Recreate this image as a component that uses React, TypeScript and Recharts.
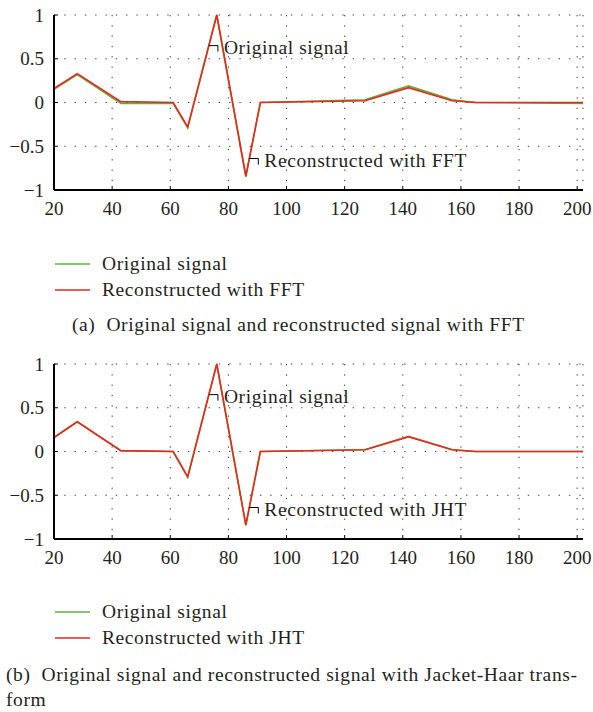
import { CartesianGrid, Line, LineChart, ReferenceDot, XAxis, YAxis } from "recharts";

// sample positions and values
const sampleX = [20, 28, 43, 61, 66, 76, 86, 91, 127, 142, 157, 165, 202];
const originalA = [0.15, 0.32, -0.01, -0.01, -0.29, 1.0, -0.85, 0.0, 0.03, 0.19, 0.03, 0.0, -0.01];
const fftValues = [0.16, 0.33, 0.01, 0.0, -0.28, 1.0, -0.84, 0.0, 0.02, 0.17, 0.02, 0.0, 0.0];
const originalB = [0.16, 0.34, 0.01, 0.0, -0.29, 1.0, -0.84, 0.0, 0.02, 0.17, 0.02, 0.0, 0.0];
const jhtValues = [0.16, 0.34, 0.01, 0.0, -0.29, 1.0, -0.84, 0.0, 0.02, 0.17, 0.02, 0.0, 0.0];

const xTicks = [20, 40, 60, 80, 100, 120, 140, 160, 180, 200];
const yTicks = [-1, -0.5, 0, 0.5, 1];
const seriesNames = ["Original signal", "Reconstructed with"];

const GREEN = "#5cb23e";
const RED = "#e8271e";
const INK = "#231f20";
const FONT = "'Liberation Serif', serif";
const TEXT_SIZE = 19.5;
const SPACING = 0.6;

const fmtY = (v: number) => (v < 0 ? "\u2212" + Math.abs(v) : String(v));

function Callout(props: any) {
  const { cx, cy, text } = props;
  if (cx == null || cy == null) return null;
  return (
    <g>
      <path d={`M${cx},${cy} H${cx + 9} V${cy + 6}`} stroke="#000" strokeWidth={1} fill="none" />
      <text
        x={cx + 15}
        y={cy + 8.5}
        fontFamily={FONT}
        fontSize={TEXT_SIZE}
        letterSpacing={SPACING}
        fill={INK}
      >
        {text}
      </text>
    </g>
  );
}

function Panel({ original, recon, method }: { original: number[]; recon: number[]; method: string }) {
  const data = sampleX.map((x, i) => ({ x, original: original[i], recon: recon[i] }));
  const tickStyle = { fontFamily: FONT, fontSize: 19, fill: INK };
  const edge = { stroke: "#000", strokeWidth: 2 };
  return (
    <LineChart width={593} height={230} data={data} margin={{ top: 15, right: 10, bottom: 0, left: 0 }}>
      <CartesianGrid stroke="#333" strokeDasharray="1.3 9" />
      <XAxis
        dataKey="x"
        type="number"
        domain={[20, 202]}
        ticks={xTicks}
        allowDataOverflow
        height={40}
        tickSize={-4}
        tickMargin={16}
        tick={tickStyle}
        axisLine={edge}
        tickLine={{ stroke: "#000" }}
      />
      <XAxis
        xAxisId="top"
        orientation="top"
        dataKey="x"
        type="number"
        domain={[20, 202]}
        ticks={xTicks}
        allowDataOverflow
        height={0}
        tickSize={-4}
        tick={false}
        axisLine={edge}
        tickLine={{ stroke: "#000" }}
      />
      <YAxis
        type="number"
        domain={[-1, 1]}
        ticks={yTicks}
        width={54}
        tickSize={-4}
        tickMargin={14}
        tick={tickStyle}
        tickFormatter={fmtY}
        axisLine={edge}
        tickLine={{ stroke: "#000" }}
      />
      <YAxis
        yAxisId="right"
        orientation="right"
        type="number"
        domain={[-1, 1]}
        ticks={yTicks}
        width={0}
        tickSize={-4}
        tick={false}
        axisLine={edge}
        tickLine={{ stroke: "#000" }}
      />
      <Line dataKey="original" stroke={GREEN} strokeWidth={1.6} dot={false} isAnimationActive={false} />
      <Line dataKey="recon" stroke={RED} strokeWidth={1.6} dot={false} isAnimationActive={false} />
      <ReferenceDot x={73.3} y={0.65} ifOverflow="visible" shape={(p: any) => <Callout {...p} text={seriesNames[0]} />} />
      <ReferenceDot
        x={87.2}
        y={-0.64}
        ifOverflow="visible"
        shape={(p: any) => <Callout {...p} text={`${seriesNames[1]} ${method}`} />}
      />
    </LineChart>
  );
}

// legend rows: y of each swatch line
function Legend({ method, rowsY }: { method: string; rowsY: number[] }) {
  const rows = [
    { name: seriesNames[0], color: GREEN },
    { name: `${seriesNames[1]} ${method}`, color: RED },
  ];
  return (
    <>
      {rows.map((r, i) => (
        <div key={r.name}>
          <svg width={40} height={6} style={{ position: "absolute", left: 53, top: rowsY[i] - 3 }}>
            <line x1={2} x2={37} y1={3} y2={3} stroke={r.color} strokeWidth={1.3} />
          </svg>
          <div
            style={{
              position: "absolute",
              left: 102,
              top: rowsY[i] - 12,
              fontSize: TEXT_SIZE,
              letterSpacing: SPACING,
              lineHeight: "24px",
              color: INK,
              whiteSpace: "nowrap",
            }}
          >
            {r.name}
          </div>
        </div>
      ))}
    </>
  );
}

export default function App() {
  const caption = {
    position: "absolute" as const,
    fontSize: TEXT_SIZE,
    letterSpacing: SPACING,
    lineHeight: "25px",
    color: INK,
    whiteSpace: "pre" as const,
  };
  return (
    <div
      style={{
        position: "absolute",
        left: 0,
        top: 0,
        width: 593,
        height: 712,
        background: "#fff",
        fontFamily: FONT,
        overflow: "hidden",
      }}
    >
      <div style={{ position: "absolute", left: 0, top: 0 }}>
        <Panel original={originalA} recon={fftValues} method="FFT" />
      </div>
      <Legend method="FFT" rowsY={[263.5, 289.5]} />
      <div style={{ ...caption, left: 72, top: 312 }}>(a)  Original signal and reconstructed signal with FFT</div>

      <div style={{ position: "absolute", left: 0, top: 349 }}>
        <Panel original={originalB} recon={jhtValues} method="JHT" />
      </div>
      <Legend method="JHT" rowsY={[611.5, 637.5]} />
      <div style={{ ...caption, left: 6, top: 662 }}>
        {"(b)  Original signal and reconstructed signal with Jacket-Haar trans-\nform"}
      </div>
    </div>
  );
}
